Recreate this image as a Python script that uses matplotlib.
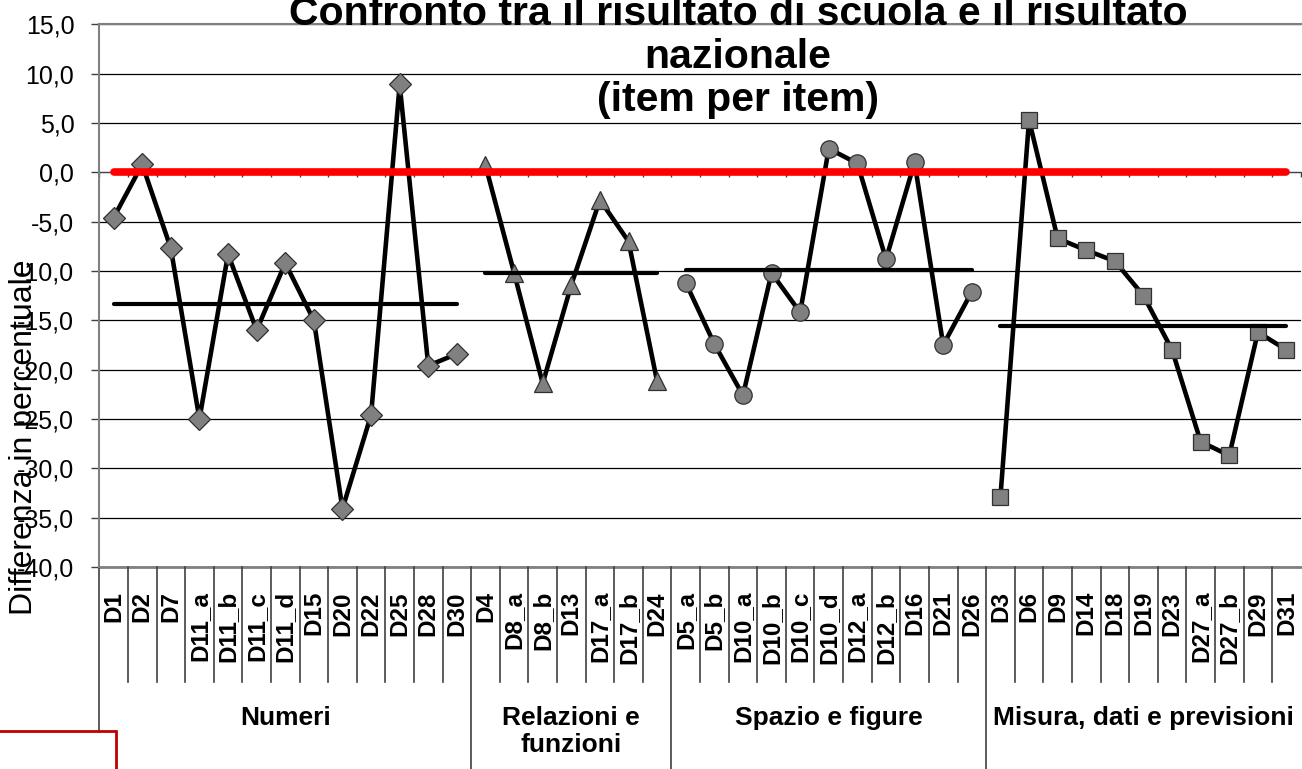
import numpy as np
import matplotlib.pyplot as plt
from matplotlib.ticker import FuncFormatter
from matplotlib.transforms import blended_transform_factory
from matplotlib.lines import Line2D
from matplotlib.patches import Rectangle

plt.rcParams['font.family'] = ['Liberation Sans', 'DejaVu Sans']

# ---- data ----
groups = ['Numeri', 'Relazioni e\nfunzioni', 'Spazio e figure', 'Misura, dati e previsioni']

items_numeri = ['D1', 'D2', 'D7', 'D11_a', 'D11_b', 'D11_c', 'D11_d', 'D15', 'D20',
                'D22', 'D25', 'D28', 'D30']
items_relazioni = ['D4', 'D8_a', 'D8_b', 'D13', 'D17_a', 'D17_b', 'D24']
items_spazio = ['D5_a', 'D5_b', 'D10_a', 'D10_b', 'D10_c', 'D10_d', 'D12_a', 'D12_b',
                'D16', 'D21', 'D26']
items_misura = ['D3', 'D6', 'D9', 'D14', 'D18', 'D19', 'D23', 'D27_a', 'D27_b', 'D29', 'D31']

diff_numeri = [-4.6, 0.8, -7.7, -25.0, -8.3, -16.0, -9.2, -15.0, -34.1, -24.6, 8.9, -19.6, -18.4]
diff_relazioni = [0.7, -10.2, -21.4, -11.4, -2.8, -7.0, -21.2]
diff_spazio = [-11.2, -17.4, -22.6, -10.2, -14.2, 2.4, 0.9, -8.8, 1.0, -17.5, -12.1]
diff_misura = [-32.9, 5.3, -6.7, -7.9, -9.0, -12.5, -18.0, -27.3, -28.7, -16.2, -18.0]

group_means = [-13.3, -10.2, -9.9, -15.6]

items = [items_numeri, items_relazioni, items_spazio, items_misura]
diffs = [diff_numeri, diff_relazioni, diff_spazio, diff_misura]
markers = [('D', 11), ('^', 13), ('o', 12.5), ('s', 11.5)]

# ---- figure ----
W, H = 1302, 769
fig = plt.figure(figsize=(W / 100, H / 100), dpi=100)
ax = fig.add_axes([99.3 / W, 1 - 567 / H, 1201.5 / W, (567 - 24.3) / H])

n_total = sum(len(it) for it in items)
start = 0
for it, d, (mk, ms), m in zip(items, diffs, markers, group_means):
    x = np.arange(start, start + len(it))
    ax.plot(x, d, color='black', lw=3.3, marker=mk, ms=ms, mfc='#808080',
            mec='#303030', mew=0.9, zorder=3)
    ax.plot([x[0], x[-1]], [m, m], color='black', lw=3.0, zorder=4,
            solid_capstyle='round')
    start += len(it)

# national reference (zero line)
ax.plot([0, n_total - 1], [0, 0], color='#ff0000', lw=5.5, zorder=5,
        solid_capstyle='round')

ax.set_xlim(-0.5, n_total - 0.5)
ax.set_ylim(-40, 15)
ax.set_yticks(np.arange(-40, 16, 5))
ax.yaxis.set_major_formatter(FuncFormatter(lambda v, p: f'{v:.1f}'.replace('.', ',')))
ax.tick_params(axis='y', labelsize=18, length=6, width=1, color='#404040', pad=12)
ax.yaxis.grid(True, color='black', lw=0.9)
ax.set_axisbelow(True)

# category axis crosses at zero
ax.spines['bottom'].set_position(('data', 0))
ax.spines['bottom'].set_color('#404040')
ax.spines['bottom'].set_zorder(2)
ax.set_xticks(np.arange(-0.5, n_total, 1))
ax.set_xticklabels([])
ax.tick_params(axis='x', length=3.5, width=1, color='#404040', direction='out')

ax.spines['right'].set_visible(False)
ax.spines['top'].set_color('#808080')
ax.spines['top'].set_linewidth(1.5)
ax.spines['left'].set_color('#808080')
ax.spines['left'].set_linewidth(1.5)
ax.axhline(-40, color='#808080', lw=2, zorder=2, clip_on=False)

# ---- category table under the plot ----
tr = blended_transform_factory(ax.transData, fig.transFigure)
y_axis_bottom = 1 - 567 / H
y_sep_end = 1 - 682 / H
all_items = [name for it in items for name in it]
for i, name in enumerate(all_items):
    ax.text(i, 1 - 591 / H, name, transform=tr, rotation=90, ha='center', va='top',
            fontsize=17.5, fontweight='bold', clip_on=False)

bounds = np.cumsum([0] + [len(it) for it in items]) - 0.5
for b in np.arange(0.5, n_total - 1, 1):
    if b in bounds:
        continue
    ax.add_line(Line2D([b, b], [y_sep_end, y_axis_bottom], transform=tr,
                       color='#404040', lw=1.2, clip_on=False))
for b in bounds[:-1]:
    ax.add_line(Line2D([b, b], [0, y_axis_bottom], transform=tr,
                       color='#404040', lw=1.2, clip_on=False))

for g, lo, hi in zip(groups, bounds[:-1], bounds[1:]):
    ax.text((lo + hi) / 2, 1 - 706 / H, g, transform=tr, ha='center', va='top',
            fontsize=19, fontweight='bold', linespacing=1.15, clip_on=False)

# ---- titles ----
fig.text(738 / W, 1 - 57 / H,
         'Confronto tra il risultato di scuola e il risultato\nnazionale\n(item per item)',
         ha='center', va='center', fontsize=29.5, fontweight='bold', linespacing=1.17)
fig.text(24 / W, 1 - 437 / H, 'Differenza in percentuale', rotation=90,
         ha='center', va='center', fontsize=23)

# red box in the lower left corner of the slide
fig.patches.append(Rectangle((-0.01, -0.01), 116 / W + 0.01, (769 - 731) / H + 0.01,
                             transform=fig.transFigure, facecolor='white',
                             edgecolor='#c00000', lw=2, zorder=10))

fig.savefig('out.png', dpi=100)
